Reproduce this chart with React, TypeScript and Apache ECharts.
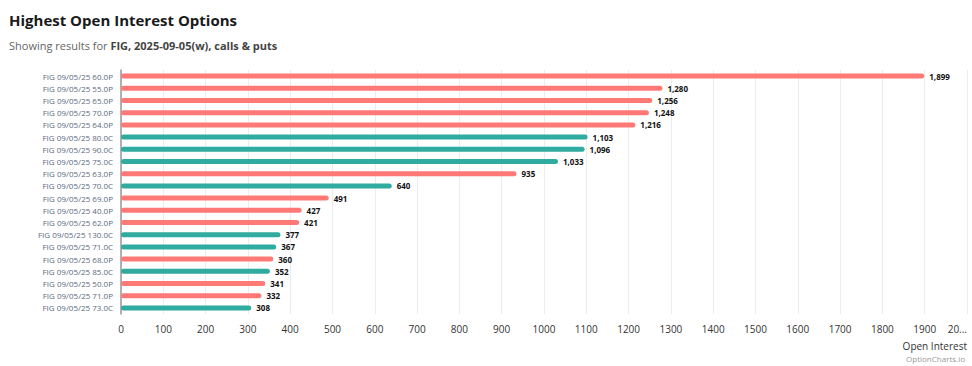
import React, { useEffect, useRef } from "react";
import * as echarts from "echarts";

const categories = [
  "FIG 09/05/25 60.0P",
  "FIG 09/05/25 55.0P",
  "FIG 09/05/25 65.0P",
  "FIG 09/05/25 70.0P",
  "FIG 09/05/25 64.0P",
  "FIG 09/05/25 80.0C",
  "FIG 09/05/25 90.0C",
  "FIG 09/05/25 75.0C",
  "FIG 09/05/25 63.0P",
  "FIG 09/05/25 70.0C",
  "FIG 09/05/25 69.0P",
  "FIG 09/05/25 40.0P",
  "FIG 09/05/25 62.0P",
  "FIG 09/05/25 130.0C",
  "FIG 09/05/25 71.0C",
  "FIG 09/05/25 68.0P",
  "FIG 09/05/25 85.0C",
  "FIG 09/05/25 50.0P",
  "FIG 09/05/25 71.0P",
  "FIG 09/05/25 73.0C",
];
const openInterest = [1899, 1280, 1256, 1248, 1216, 1103, 1096, 1033, 935, 640, 491, 427, 421, 377, 367, 360, 352, 341, 332, 308];

const PUT_COLOR = "#ff7a77";
const CALL_COLOR = "#2fab9f";

export default function App() {
  const ref = useRef<HTMLDivElement>(null);
  useEffect(() => {
    if (!ref.current) return;
    const chart = echarts.init(ref.current, null, { renderer: "svg" });
    const font = "'Open Sans', 'Noto Sans', sans-serif";
    chart.setOption({
      animation: false,
      textStyle: { fontFamily: font },
      title: [
        {
          text: "Highest Open Interest Options",
          left: 4,
          top: 7,
          textStyle: { fontSize: 15, fontWeight: "bold", color: "#1a1a1a", fontFamily: font },
        },
        {
          text: "Showing results for {b|FIG, 2025-09-05(w), calls & puts}",
          left: 4,
          top: 35,
          textStyle: {
            fontSize: 11,
            fontWeight: "normal",
            color: "#666",
            fontFamily: font,
            rich: { b: { fontSize: 11, fontWeight: "bold", color: "#444", fontFamily: font } },
          },
        },
        {
          text: "OptionCharts.io",
          right: 2,
          top: 349,
          textStyle: { fontSize: 8, color: "#999", fontWeight: "normal", fontFamily: font },
        },
      ],
      grid: { left: 121, right: 5, top: 70, bottom: 52, containLabel: false, outerBoundsMode: "none" },
      xAxis: {
        type: "value",
        min: 0,
        max: 2000,
        interval: 100,
        name: "Open Interest",
        nameLocation: "end",
        nameGap: 0,
        nameTextStyle: {
          fontSize: 10,
          color: "#333",
          align: "right",
          verticalAlign: "top",
          padding: [27, 0, 0, 0],
        },
        axisLine: { show: false },
        axisTick: { show: false },
        axisLabel: {
          fontSize: 10,
          color: "#333",
          margin: 10,
          alignMaxLabel: "right",
          formatter: (v: number) => (v === 2000 ? "20..." : String(v)),
        },
        splitLine: { show: true, lineStyle: { color: "#ececec", width: 1 } },
      },
      yAxis: {
        type: "category",
        data: categories,
        inverse: true,
        axisLine: { show: true, lineStyle: { color: "#999", width: 1.5 } },
        axisTick: { show: false },
        axisLabel: { fontSize: 8, color: "#5a6a80", margin: 8 },
        splitLine: { show: false },
      },
      series: [
        {
          type: "bar",
          data: openInterest.map((v, i) => ({
            value: v,
            itemStyle: { color: categories[i].endsWith("P") ? PUT_COLOR : CALL_COLOR },
          })),
          barWidth: 5,
          itemStyle: { borderRadius: 3 },
          label: {
            show: true,
            position: "right",
            distance: 5,
            fontSize: 8,
            fontWeight: "bold",
            color: "#111",
            formatter: (p: any) => Number(p.value).toLocaleString("en-US"),
          },
        },
      ],
    });
    return () => chart.dispose();
  }, []);
  return (
    <div
      ref={ref}
      style={{ position: "absolute", left: 0, top: 0, width: 972, height: 366, overflow: "hidden" }}
    />
  );
}
